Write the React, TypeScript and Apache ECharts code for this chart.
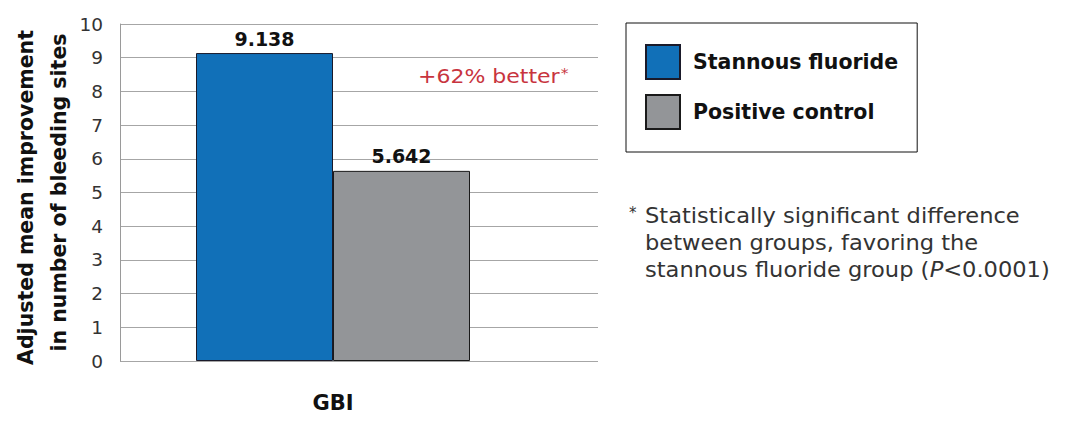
import React, { useEffect, useRef } from "react";
import * as echarts from "echarts";

const categories = ["GBI"];
const seriesNames = ["Stannous fluoride", "Positive control"];
const stannousValues = [9.138];
const controlValues = [5.642];
const yTicks = { min: 0, max: 10, interval: 1 };
const yAxisTitleLines = ["Adjusted mean improvement", "in number of bleeding sites"];
const annotation = "+62% better";
const footnoteLines = [
  "Statistically significant difference",
  "between groups, favoring the",
];
const footnoteLastStart = "stannous fluoride group (";
const footnoteLastItalic = "P";
const footnoteLastEnd = "<0.0001)";

const BOLD_FONT = "DejaVu Sans";
const LIGHT_FONT = "DejaVu Sans";
const TEXT_GREY = "#333333";

export default function App() {
  const ref = useRef<HTMLDivElement>(null);

  useEffect(() => {
    if (!ref.current) return;
    const chart = echarts.init(ref.current, undefined, { renderer: "svg" });
    const valueLabel = {
      show: true,
      position: "top",
      distance: 5,
      formatter: (p: any) => p.value.toFixed(3),
      fontFamily: BOLD_FONT,
      fontWeight: "bold",
      fontSize: 19,
      color: "#111111",
    };
    const nameRich = {
      fontFamily: BOLD_FONT,
      fontWeight: "bold",
      fontSize: 20.5,
      lineHeight: 33,
      color: "#111111",
    };
    const option: any = {
      animation: false,
      backgroundColor: "#ffffff",
      grid: [
        { left: 120, top: 24, width: 478, height: 337 },
        { left: 120, top: 24, width: 426, height: 337 },
      ],
      xAxis: [
        { type: "value", gridIndex: 0, min: 0, max: 1, show: false },
        {
          type: "category",
          gridIndex: 1,
          data: categories,
          axisLine: { show: false },
          axisTick: { show: false },
          axisLabel: {
            margin: 31,
            fontFamily: BOLD_FONT,
            fontWeight: "bold",
            fontSize: 21,
            color: "#111111",
          },
        },
      ],
      yAxis: [
        {
          type: "value",
          gridIndex: 0,
          min: yTicks.min,
          max: yTicks.max,
          interval: yTicks.interval,
          axisLine: { show: true, lineStyle: { color: "#9a9a9a", width: 1 } },
          axisTick: { show: false },
          splitLine: { show: true, lineStyle: { color: "#a6a6a6", width: 1 } },
          axisLabel: {
            margin: 17,
            fontFamily: LIGHT_FONT,
            fontWeight: "normal",
            fontSize: 18.5,
            color: TEXT_GREY,
          },
          name: `{a|${yAxisTitleLines[0]}}\n{b|${yAxisTitleLines[1]}}`,
          nameLocation: "middle",
          nameRotate: 90,
          nameGap: 44,
          nameTextStyle: {
            ...nameRich,
            rich: {
              a: { ...nameRich, padding: [0, 10, 0, 0] },
              b: { ...nameRich },
            },
          },
        },
        {
          type: "value",
          gridIndex: 1,
          min: yTicks.min,
          max: yTicks.max,
          interval: yTicks.interval,
          show: false,
          splitLine: { show: false },
        },
      ],
      legend: {
        orient: "vertical",
        left: 626,
        top: 23,
        padding: [21, 19, 22, 19],
        itemWidth: 34,
        itemHeight: 34,
        itemGap: 14,
        borderColor: "#111111",
        borderWidth: 1,
        icon: "rect",
        data: seriesNames,
        textStyle: {
          fontFamily: BOLD_FONT,
          fontWeight: "bold",
          fontSize: 20.5,
          color: "#111111",
          padding: [0, 0, 0, 8],
        },
      },
      series: [
        {
          name: seriesNames[0],
          type: "bar",
          xAxisIndex: 1,
          yAxisIndex: 1,
          data: stannousValues,
          barWidth: 137,
          barGap: "0%",
          itemStyle: { color: "#1170b8", borderColor: "#1a1a2a", borderWidth: 1 },
          label: valueLabel,
        },
        {
          name: seriesNames[1],
          type: "bar",
          xAxisIndex: 1,
          yAxisIndex: 1,
          data: controlValues,
          barWidth: 137,
          barGap: "0%",
          itemStyle: { color: "#939598", borderColor: "#1a1a1a", borderWidth: 1 },
          label: valueLabel,
        },
      ],
      graphic: [
        {
          type: "text",
          x: 418,
          y: 66,
          scaleX: 1.1,
          style: {
            text: `{a|${annotation}}{b|*}`,
            verticalAlign: "top",
            rich: {
              a: {
                fontFamily: LIGHT_FONT,
                fontSize: 20,
                fill: "#c8343e",
              },
              b: {
                fontFamily: LIGHT_FONT,
                fontSize: 14,
                fill: "#c8343e",
                verticalAlign: "top",
                padding: [0, 0, 6, 1],
              },
            },
          },
        },
        {
          type: "text",
          x: 629,
          y: 205,
          style: {
            text: "*",
            verticalAlign: "top",
            fontFamily: LIGHT_FONT,
            fontSize: 15,
            fill: TEXT_GREY,
          },
        },
        {
          type: "text",
          x: 645,
          y: 202,
          scaleX: 1.1,
          style: {
            text:
              `{n|${footnoteLines[0]}}\n{n|${footnoteLines[1]}}\n` +
              `{n|${footnoteLastStart}}{i|${footnoteLastItalic}}{n|${footnoteLastEnd}}`,
            verticalAlign: "top",
            rich: {
              n: {
                fontFamily: LIGHT_FONT,
                fontSize: 20.5,
                lineHeight: 27,
                fill: TEXT_GREY,
              },
              i: {
                fontFamily: LIGHT_FONT,
                fontStyle: "italic",
                fontSize: 20.5,
                lineHeight: 27,
                fill: TEXT_GREY,
              },
            },
          },
        },
      ],
    };
    chart.setOption(option);
    return () => chart.dispose();
  }, []);

  return (
    <div
      ref={ref}
      style={{ position: "fixed", left: 0, top: 0, width: 1081, height: 432 }}
    />
  );
}
